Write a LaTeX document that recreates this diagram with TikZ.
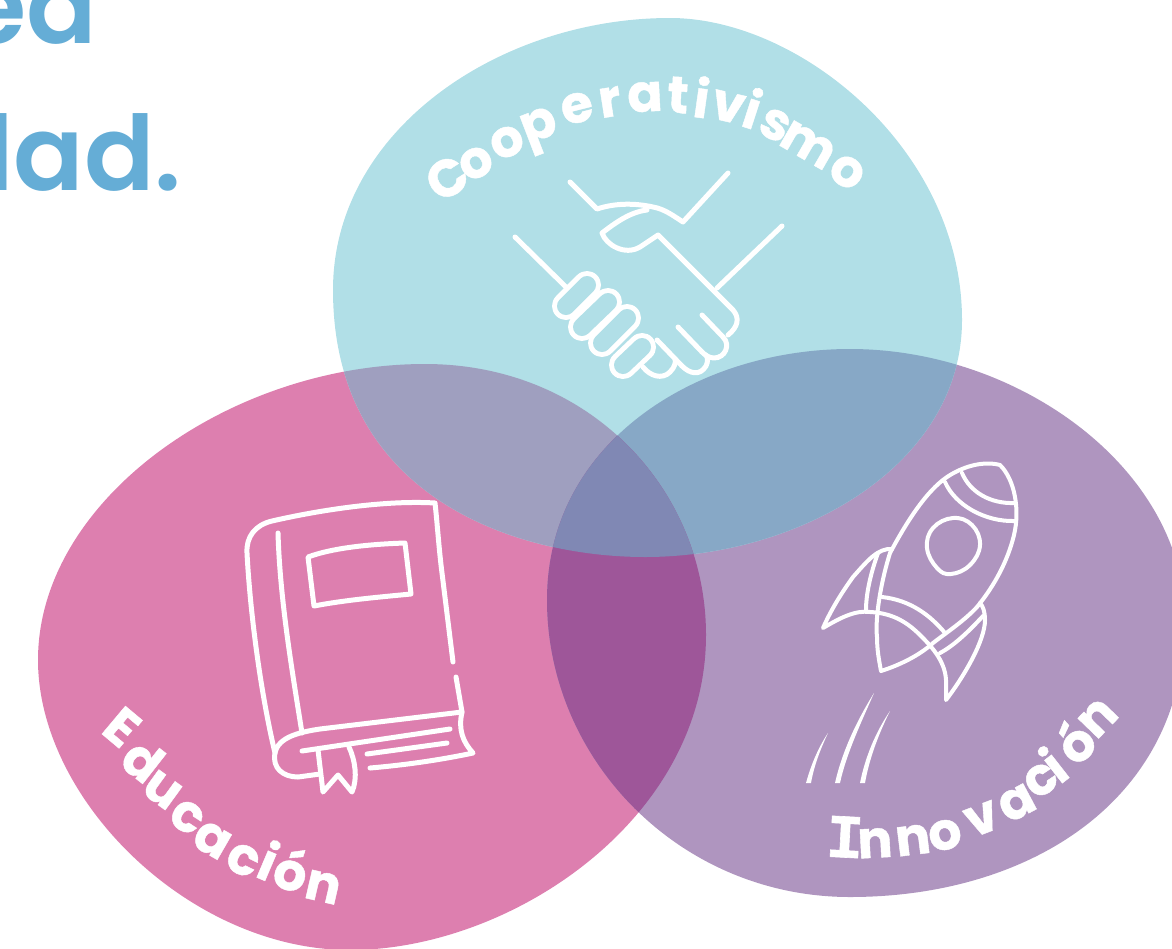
\documentclass[tikz,border=0pt]{standalone}
\usepackage{fontspec}
\setmainfont{Poppins}
\newfontfamily\headfont{Poppins}[UprightFont=* SemiBold]
\newfontfamily\letterfont{Poppins}[UprightFont=* Bold,FakeBold=0.8]
\newfontfamily\capIfont{Liberation Mono}[UprightFont=* Bold,FakeBold=1]
\definecolor{cblue}{HTML}{B1DFE7}
\definecolor{cpink}{HTML}{DD7FAF}
\definecolor{cpurple}{HTML}{AF95BF}
\definecolor{cbp}{HTML}{9F9FBF}
\definecolor{cbu}{HTML}{87A8C6}
\definecolor{cpu}{HTML}{9E5699}
\definecolor{cmid}{HTML}{8088B4}
\definecolor{chead}{HTML}{65ADD6}
\tikzset{
  icon/.style={draw=white,line width=5pt,line cap=round,line join=round},
  thin icon/.style={draw=white,line width=4pt,line cap=round,line join=round},
  streak/.style={fill=white,draw=none},
  lt/.style={text=white,inner sep=0pt,font=\letterfont\fontsize{52}{52}\selectfont},
  head/.style={text=chead,inner sep=0pt,anchor=base east,font=\headfont\fontsize{104}{104}\selectfont},
}
\def\blueblob{(670,18) .. controls (800,18) and (962,150) .. (962,320) .. controls (962,465) and (800,557) .. (645,557) .. controls (520,557) and (333,500) .. (333,290) .. controls (333,130) and (500,18) .. (670,18) -- cycle}
\def\pinkblob{(425,364) .. controls (590,364) and (706,490) .. (706,635) .. controls (706,820) and (510,950) .. (350,950) .. controls (190,950) and (38,800) .. (38,660) .. controls (38,500) and (230,364) .. (425,364) -- cycle}
\def\purpleblob{(850,349) .. controls (1020,349) and (1185,470) .. (1185,620) .. controls (1185,800) and (1030,897) .. (850,897) .. controls (680,897) and (547,760) .. (547,600) .. controls (547,440) and (700,349) .. (850,349) -- cycle}
\begin{document}
\begin{tikzpicture}[x=1pt,y=-1pt]
\useasboundingbox (0,0) rectangle (1172,948);
\clip (0,0) rectangle (1172,948);
% title fragments
\node[head] (title1) at (97,43) {ea};
\node[head] (title2) at (182,190) {dad.};
% blobs
\fill[cpink] \pinkblob;
\fill[cpurple] \purpleblob;
\fill[cblue] \blueblob;
\begin{scope}\clip \pinkblob; \fill[cbp] \blueblob; \end{scope}
\begin{scope}\clip \purpleblob; \fill[cbu] \blueblob; \end{scope}
\begin{scope}\clip \pinkblob; \fill[cpu] \purpleblob; \end{scope}
\begin{scope}\clip \pinkblob; \clip \purpleblob; \fill[cmid] \blueblob; \end{scope}
% handshake
\draw[icon] (570,182) -- (597,209) .. controls (615,203) and (635,203) .. (653,207) .. controls (665,209) and (675,217) .. (683,222) -- (728,173);
\draw[icon] (647,210) .. controls (630,212) and (615,223) .. (602,233) .. controls (606,245) and (625,256) .. (640,247) -- (658,235) -- (733,310) .. controls (740,318) and (738,327) .. (728,335);
\draw[icon] (782,226) -- (717,288);
\draw[icon] (515,237) -- (567,288);
\draw[icon] (702,315) -- (723,337) .. controls (731,345) and (725,358) .. (714,358) .. controls (709,358) and (705,355) .. (702,352) -- (678,327);
\draw[icon] (657,340) -- (682,366) .. controls (690,374) and (700,376) .. (706,366) .. controls (708,362) and (708,358) .. (706,355);
\draw[icon] (643,367) .. controls (650,376) and (662,380) .. (670,372) .. controls (675,367) and (676,362) .. (675,359);
\foreach \a/\b in {{(623,365)}/{(642,347)},{(602,343)}/{(627,318)},{(582,327)}/{(608,302)},{(566,306)}/{(587,285)}}{
  \draw[white,line width=28pt,line cap=round] \a -- \b;
  \draw[cblue,line width=18pt,line cap=round] \a -- \b;
}
% book
\draw[icon] (453,662) -- (442,573) .. controls (439,550) and (437,520) .. (435,503) .. controls (385,500) and (320,510) .. (272,521) .. controls (255,525) and (246,537) .. (247,553) .. controls (250,610) and (260,690) .. (275,753) .. controls (272,768) and (283,777) .. (298,777) -- (320,774);
\draw[icon] (456,677) -- (462,712) -- (320,729) .. controls (300,732) and (278,737) .. (275,753);
\draw[icon] (278,533) .. controls (280,600) and (292,670) .. (302,733);
\draw[icon] (308,557) .. controls (335,547) and (375,544) .. (405,543) -- (411,594) .. controls (380,597) and (345,600) .. (314,606) -- cycle;
\draw[icon] (462,712) .. controls (458,730) and (463,742) .. (473,753) .. controls (440,760) and (405,765) .. (370,768);
\draw[icon] (302,751) -- (450,729);
\draw[icon] (367,754) -- (447,743);
\draw[icon] (318,750) -- (323,792) -- (338,775) -- (352,792) .. controls (358,778) and (355,760) .. (349,747);
% rocket
\draw[thin icon] (1000,465) .. controls (985,461) and (965,465) .. (947,477) .. controls (925,492) and (905,525) .. (890,553) .. controls (880,585) and (875,620) .. (877,637) .. controls (877,650) and (879,660) .. (881,671) .. controls (900,665) and (920,655) .. (933,643) .. controls (950,630) and (965,620) .. (977,607) .. controls (995,585) and (1008,560) .. (1014,535) .. controls (1020,510) and (1015,480) .. (1000,465) -- cycle;
\draw[thin icon] (945,482) .. controls (955,505) and (985,522) .. (1015,521);
\draw[thin icon] (962,473) .. controls (970,492) and (990,504) .. (1015,503);
\draw[thin icon] plot[smooth cycle,tension=.7] coordinates{(927,548)(933,528)(953,518)(972,525)(980,545)(970,565)(951,574)(937,568)};
\draw[thin icon] (892,549) .. controls (878,548) and (868,560) .. (853,577) .. controls (840,595) and (830,612) .. (823,628) .. controls (840,618) and (855,610) .. (870,612) .. controls (890,613) and (905,620) .. (920,635) .. controls (930,645) and (945,660) .. (946,680) -- (946,700) .. controls (965,675) and (985,640) .. (985,620) .. controls (985,612) and (983,606) .. (980,603);
\draw[thin icon] (878,553) .. controls (870,575) and (866,595) .. (866,610);
\draw[thin icon] (882,597) .. controls (910,600) and (930,615) .. (945,633);
\draw[thin icon] (983,616) .. controls (970,630) and (955,645) .. (940,653);
\fill[streak] (806,783) .. controls (811,765) and (818,748) .. (828,733) .. controls (820,750) and (814,766) .. (811,783) -- cycle;
\fill[streak] (835,783) .. controls (842,752) and (856,722) .. (874,693) .. controls (860,725) and (846,755) .. (840,783) -- cycle;
\fill[streak] (860,783) .. controls (865,758) and (875,733) .. (890,711) .. controls (878,735) and (869,760) .. (865,783) -- cycle;
% labels
\foreach \n/\x/\y/\r/\t in {
 c1/447/178/33/C,c2/476/163/29/o,c3/507/142/25/o,c4/541/131/21/p,c5/577/108/14/e,c6/610/102/9/r,c7/645/97/3/a,c8/678/95/-3/t,c9/702/97/-8/i,c10/728/107/-13/v,c11/753/108/-18/i,c12/775/125/-24/s,c13/808/145/-30/m,c14/847/172/-35/o,
 e1/122/727/-40/E,e2/143/760/-38/d,e3/162/790/-36/u,e4/187/817/-33/c,e5/212/840/-30/a,e6/243/860/-26/c,e7/269/860/-23/i,e8/292/869/-18/ó,e9/323/887/-13/n,
 i2/875/843/3/n,i3/913/840/7/n,i4/945/835/14/o,i5/982/819/21/v,i6/1017/803/28/a,i7/1041/780/34/c,i8/1053/764/38/i,i9/1074/741/42/ó,i10/1098/718/46/n}{
 \node[lt,rotate=\r] (\n) at (\x,\y) {\t};
}
\node[lt,font=\capIfont\fontsize{62}{62}\selectfont,rotate=-3] (i1) at (845,837) {I};
\end{tikzpicture}
\end{document}
